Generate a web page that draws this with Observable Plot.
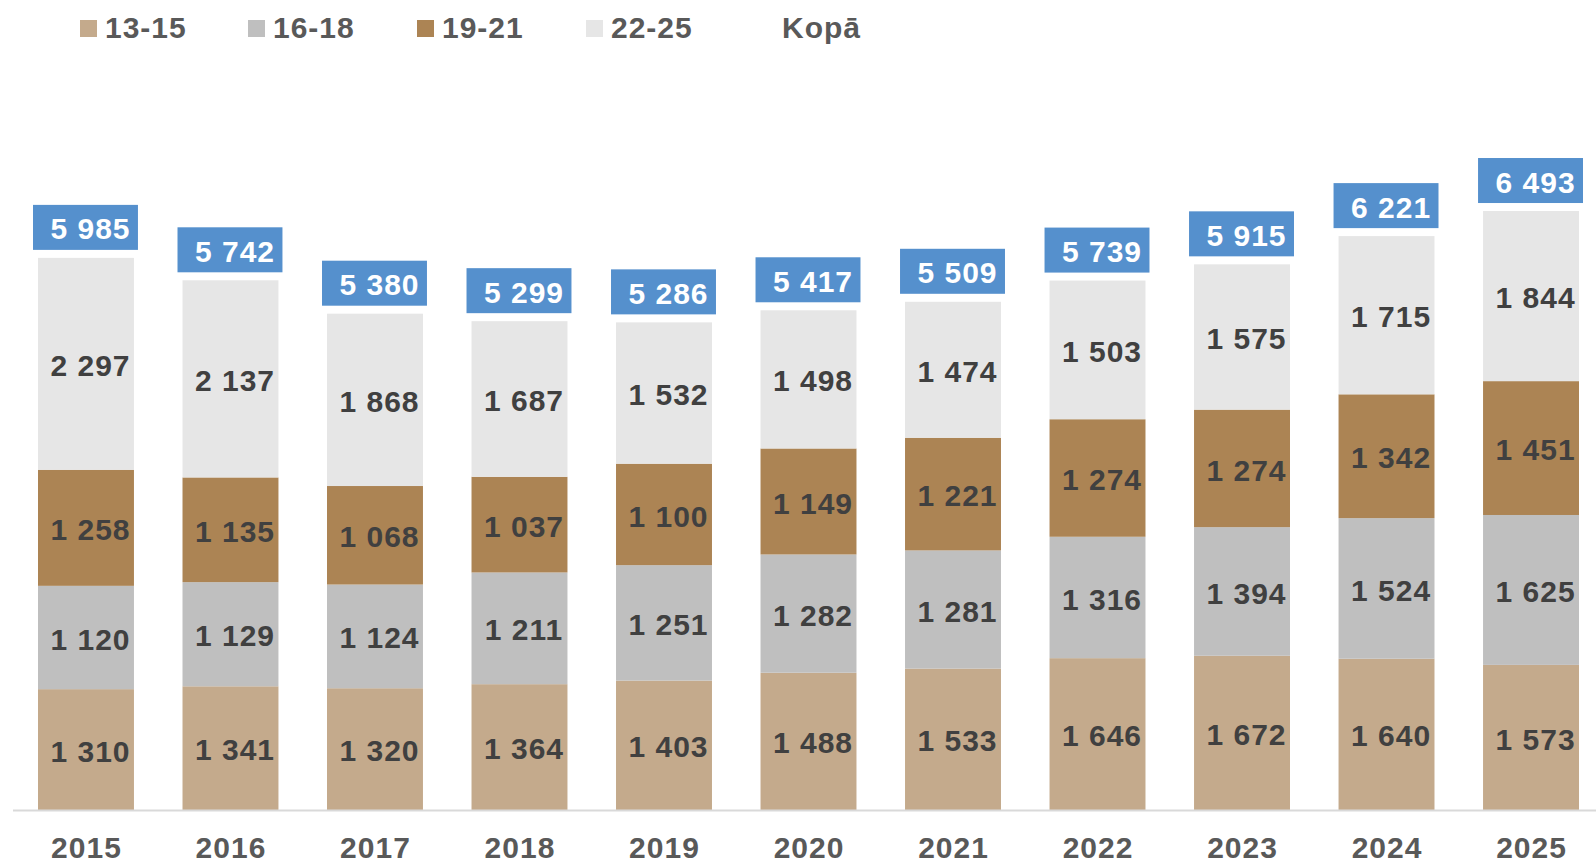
<!DOCTYPE html>
<html>
<head>
<meta charset="utf-8">
<script src="https://cdn.jsdelivr.net/npm/d3@7"></script>
<script src="https://cdn.jsdelivr.net/npm/@observablehq/plot@0.6"></script>
<style>
  html, body { margin: 0; padding: 0; background: #fff; }
  #legend { height: 56px; position: relative; font: bold 30px "Liberation Sans", Arial, sans-serif; color: #595959; letter-spacing: 1px; }
  .item { position: absolute; top: 0; height: 56px; display: flex; align-items: center; }
  .sw { width: 17px; height: 17px; margin-right: 8px; }
  #chart svg { display: block; }
  #chart svg text { letter-spacing: 1px; }
</style>
</head>
<body>
<div id="legend"></div>
<div id="chart"></div>
<script>
const years = ["2015","2016","2017","2018","2019","2020","2021","2022","2023","2024","2025"];
const groups = ["13-15","16-18","19-21","22-25"];
const colors = ["#c4aa8c","#bfbfbf","#ac8454","#e6e6e6"];
const v1315 = [1310,1341,1320,1364,1403,1488,1533,1646,1672,1640,1573];
const v1618 = [1120,1129,1124,1211,1251,1282,1281,1316,1394,1524,1625];
const v1921 = [1258,1135,1068,1037,1100,1149,1221,1274,1274,1342,1451];
const v2225 = [2297,2137,1868,1687,1532,1498,1474,1503,1575,1715,1844];
const totals = [5985,5742,5380,5299,5286,5417,5509,5739,5915,6221,6493];
const totalLabel = "Kopā";

const series = [v1315, v1618, v1921, v2225];
const data = [];
years.forEach((y, i) => groups.forEach((g, j) => data.push({year: y, group: g, value: series[j][i]})));
const totalData = years.map((y, i) => ({year: y, total: totals[i]}));
const fmt = n => String(n).replace(/\B(?=(\d{3})+(?!\d))/g, " ");

// legend
const legend = document.getElementById("legend");
const starts = [80, 248, 417, 586, 757];
[...groups, totalLabel].forEach((g, i) => {
  const it = document.createElement("div");
  it.className = "item";
  it.style.left = starts[i] + "px";
  const sw = document.createElement("span");
  sw.className = "sw";
  sw.style.background = i < groups.length ? colors[i] : "transparent";
  const tx = document.createElement("span");
  tx.textContent = g;
  it.append(sw, tx);
  legend.append(it);
});

const font = "Liberation Sans, Arial, sans-serif";
const chart = Plot.plot({
  width: 1596,
  height: 807,
  marginTop: 0,
  marginLeft: 13,
  marginRight: 0,
  marginBottom: 53,
  style: {fontFamily: font, background: "#fff"},
  x: {domain: years, range: [38, 1579], paddingInner: 0.336, paddingOuter: 0, round: false, label: null},
  y: {domain: [0, 7000], range: [754, 108.25], axis: null},
  color: {domain: groups, range: colors},
  marks: [
    Plot.barY(data, {x: "year", y: "value", fill: "group", z: "group", order: groups}),
    Plot.text(data, Plot.stackY({x: "year", y: "value", z: "group", order: groups, text: d => fmt(d.value),
      fontSize: 30, fontWeight: "bold", fill: "#404040", dx: 4, dy: 2, fontFamily: font})),
    Plot.barY(totalData, {x: "year", y1: "total", y2: "total", fill: "#5590cd",
      insetTop: -53, insetBottom: 8, insetLeft: -5, insetRight: -4}),
    Plot.text(totalData, {x: "year", y: "total", text: d => fmt(d.total), fill: "#fff",
      fontSize: 30, fontWeight: "bold", dx: 4, dy: -28.5, fontFamily: font}),
    Plot.ruleY([0], {stroke: "#d9d9d9", strokeWidth: 2}),
    Plot.axisX({tickSize: 0, tickPadding: 26, label: null, fontSize: 30, fontWeight: "bold", color: "#595959", fontFamily: font})
  ]
});
document.getElementById("chart").append(chart);
</script>
</body>
</html>
